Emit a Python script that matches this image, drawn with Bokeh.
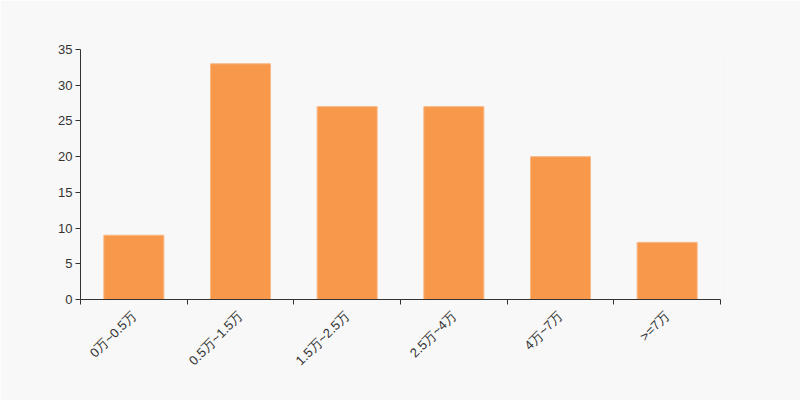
from bokeh.plotting import figure
from bokeh.models import Range1d, FixedTicker, LinearAxis
from bokeh.embed import file_html
from bokeh.resources import INLINE

categories = ["0万~0.5万", "0.5万~1.5万", "1.5万~2.5万", "2.5万~4万", "4万~7万", ">=7万"]
counts = [9, 33, 27, 27, 20, 8]
y_ticks = [0, 5, 10, 15, 20, 25, 30, 35]

n = len(categories)
centers = [i + 0.5 for i in range(n)]
bounds = [float(i) for i in range(n + 1)]

p = figure(width=800, height=400, output_backend="svg", toolbar_location=None,
           x_range=Range1d(0, n), y_range=Range1d(0, 35),
           x_axis_type=None, y_axis_type=None,
           min_border_left=80, min_border_right=80, min_border_top=49, min_border_bottom=101)
p.background_fill_color = "#f8f8f8"
p.border_fill_color = "#f8f8f8"
p.outline_line_color = None
p.xgrid.visible = False
p.ygrid.visible = False

p.vbar(x=centers, top=counts, width=0.5625, bottom=0,
       fill_color="#f7984a", line_color="#f9b784", line_width=1)

font = "Liberation Sans"
txt = "#333333"

xaxis = LinearAxis(ticker=FixedTicker(ticks=centers, minor_ticks=bounds),
                   major_label_overrides={c: lab for c, lab in zip(centers, categories)})
xaxis.major_tick_line_color = None
xaxis.minor_tick_out = 5
xaxis.minor_tick_in = 0
xaxis.minor_tick_line_color = "#333333"
xaxis.axis_line_color = "#333333"
xaxis.major_label_orientation = 0.785398
xaxis.major_label_text_font = font
xaxis.major_label_text_font_size = "13px"
xaxis.major_label_text_color = txt
xaxis.major_label_standoff = 8
p.add_layout(xaxis, "below")

yaxis = LinearAxis(ticker=FixedTicker(ticks=y_ticks, minor_ticks=[]))
yaxis.major_tick_out = 5
yaxis.major_tick_in = 0
yaxis.major_tick_line_color = "#333333"
yaxis.axis_line_color = "#333333"
yaxis.major_label_text_font = font
yaxis.major_label_text_font_size = "13px"
yaxis.major_label_text_color = txt
yaxis.major_label_standoff = 3
p.add_layout(yaxis, "left")

open("out.html", "w").write(file_html(p, INLINE))
